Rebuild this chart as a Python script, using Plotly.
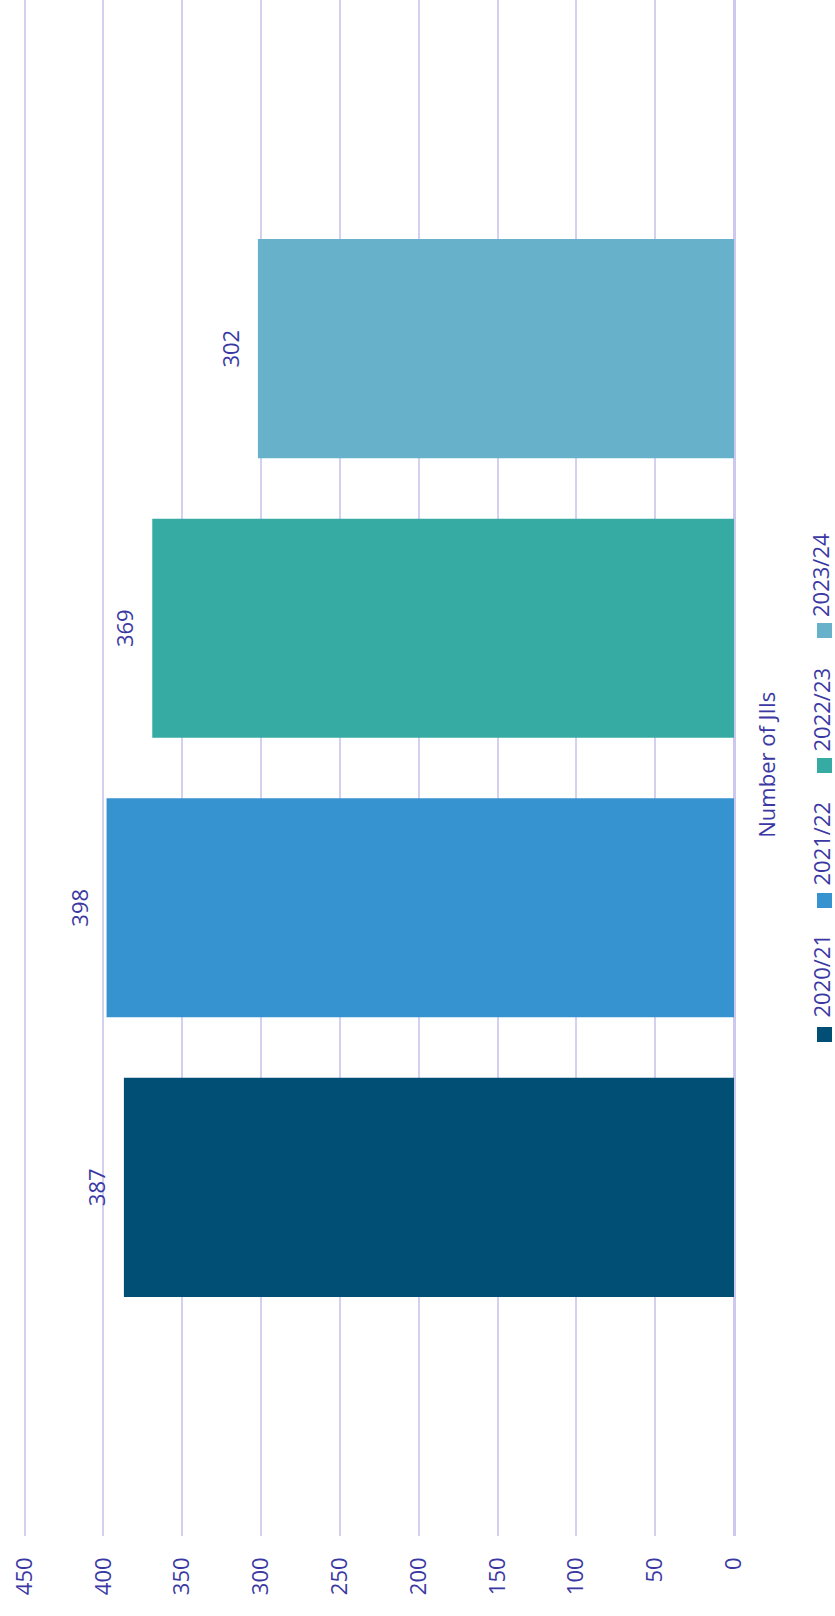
import plotly.graph_objects as go

# ---- data ----
series_names = ["2020/21", "2021/22", "2022/23", "2023/24"]
series_values = [387, 398, 369, 302]
category = ["Number of JIIs"]
colors = ["#024f75", "#3793cf", "#36aba4", "#67b2ca"]
value_ticks = [0, 50, 100, 150, 200, 250, 300, 350, 400, 450]

TEXT = "#3b38a3"
GRID = "#d4d0f0"
FONT = "Open Sans"

W, H = 835, 1616
ML, MR, MT, MB = 23, 101, 0, 80
PW, PH = W - ML - MR, H - MT - MB


def px_x(x):
    return (x - ML) / PW


def px_y(y):
    return 1 - (y - MT) / PH


PAD = "<span style='font-size:56px'>&nbsp;</span>"

fig = go.Figure()
for name, val, col in zip(series_names, series_values, colors):
    fig.add_trace(go.Bar(
        name=name, y=category, x=[val], orientation="h",
        marker=dict(color=col, line=dict(width=0)),
        text=[val], texttemplate=PAD + "%{x}" + PAD,
        textposition="outside", textangle=-90,
        textfont=dict(family=FONT, size=22, color=TEXT),
        cliponaxis=False, showlegend=False,
    ))

# legend drawn rotated (reads bottom-to-top like the reference)
legend_text_y = [975.5, 843.5, 709.5, 575]
legend_sq_y = [1027, 893, 758, 623]
for name, col, ty, sy in zip(series_names, colors, legend_text_y, legend_sq_y):
    fig.add_annotation(
        text=name, textangle=-90, xref="paper", yref="paper",
        x=px_x(820), y=px_y(ty), xanchor="center", yanchor="middle",
        showarrow=False, borderpad=0,
        font=dict(family=FONT, size=22, color=TEXT),
    )
    fig.add_shape(
        type="rect", xref="paper", yref="paper",
        x0=px_x(817), x1=px_x(832), y0=px_y(sy + 15), y1=px_y(sy),
        fillcolor=col, line=dict(width=0),
    )

fig.update_layout(
    width=W, height=H,
    margin=dict(l=ML, r=MR, t=MT, b=MB),
    paper_bgcolor="white", plot_bgcolor="white",
    barmode="group", bargap=0.272, bargroupgap=0.216,
    showlegend=False,
    font=dict(family=FONT, size=22, color=TEXT),
    xaxis=dict(
        range=[451, 0], tickvals=value_ticks, tickangle=-90,
        showgrid=True, gridcolor=GRID, gridwidth=2,
        zeroline=True, zerolinecolor="#cdc8ee", zerolinewidth=3,
        showline=False, ticks="", ticklabelstandoff=16,
        tickfont=dict(family=FONT, size=22, color=TEXT),
    ),
    yaxis=dict(
        side="right", tickangle=-90, showgrid=False, zeroline=False,
        showline=False, ticks="", ticklabelstandoff=18,
        tickfont=dict(family=FONT, size=22, color=TEXT),
    ),
)

fig.write_html("out.html", config={"displayModeBar": False},
               post_script="document.body.style.margin='0';")
